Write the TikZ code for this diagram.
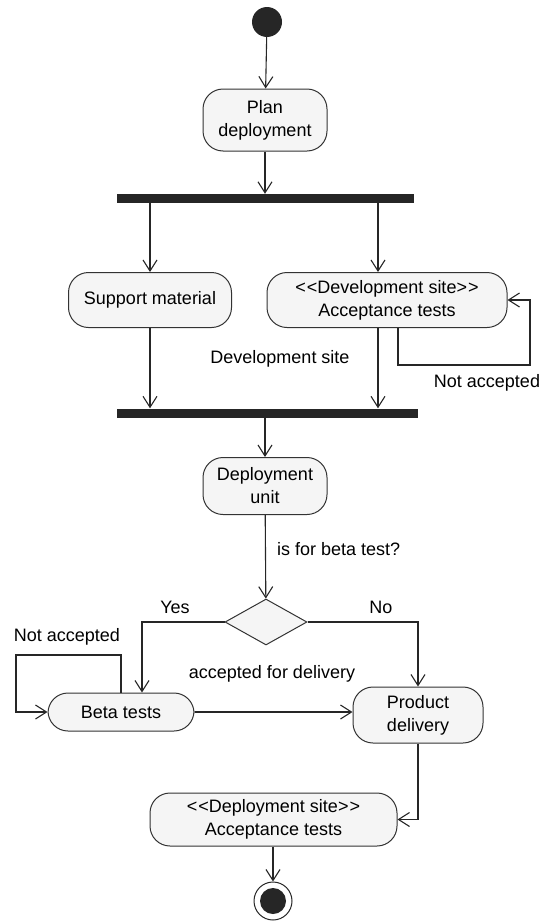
\documentclass[tikz,border=0pt]{standalone}
\usepackage{fontspec}
\setmainfont{Liberation Sans}
\usetikzlibrary{shapes.geometric,arrows.meta,positioning}

\tikzset{
  activity/.style={draw=black!80, fill=black!4, rounded corners=20pt, line width=1pt,
    align=center, inner sep=2pt, font=\fontsize{18}{23}\selectfont},
  bar/.style={fill=black!85, inner sep=0pt, minimum height=9pt},
  flow/.style={draw=black!85, line width=1.1pt, -{Straight Barb[length=11pt,width=14pt]}},
  txt/.style={font=\fontsize{18}{23}\selectfont, inner sep=0pt},
}
\newcommand{\stereo}[1]{{<}\kern1pt{<}#1{>}\kern1pt{>}}

\begin{document}
\begin{tikzpicture}[x=1pt,y=-1pt]
        \useasboundingbox (0,0) rectangle (542,921);
        % start and plan
        \node[circle, fill=black!85, minimum size=30pt, inner sep=0pt] (start) at (267,22) {};
        \node[activity, minimum width=124pt, minimum height=62pt] (plan) at (265,120) {Plan\\deployment};
        \node[bar, minimum width=297pt] (fork) at (265.5,198.5) {};
        \draw[flow] (start) -- (plan);
        \draw[flow] (plan) -- (plan |- fork.north);
        % parallel part
        \node[activity, minimum width=163pt, minimum height=55pt] (support) at (150,300) {Support material};
        \node[activity, minimum width=240pt, minimum height=55pt] (devtest) at (387,300)
            {\stereo{Development site}\\Acceptance tests};
        \node[bar, minimum width=301pt] (join) at (267.5,413) {};
        \draw[flow] (support.north |- fork.south) -- (support.north);
        \draw[flow] ([xshift=-9pt]devtest.north |- fork.south) -- ([xshift=-9pt]devtest.north);
        \draw[flow] (support.south) -- (support.south |- join.north);
        \draw[flow] ([xshift=-9pt]devtest.south) -- ([xshift=-9pt]devtest.south |- join.north);
        \coordinate (loopA) at (530,365);
        \draw[flow] ([xshift=11pt]devtest.south) |- (loopA) |- (devtest.east);
        \node[txt] (devsite) at (280,359) {Development site};
        \node[txt] (notacc1) at (487,383) {Not accepted};
        % unit and decision
        \node[activity, minimum width=124pt, minimum height=57pt] (unit) at (265,486) {Deployment\\unit};
        \node[diamond, draw=black!80, fill=black!4, line width=1pt, inner sep=0pt,
            minimum width=82pt, minimum height=46pt] (choice) at (266,622) {};
        \draw[flow] (unit.north |- join.south) -- (unit.north);
        \draw[flow] (unit) -- (choice);
        \node[txt, anchor=west] (question) at (277,549) {is for beta test?};
        % beta and delivery
        \node[activity, minimum width=146pt, minimum height=38pt] (beta) at (121,712) {Beta tests};
        \node[activity, minimum width=130pt, minimum height=56pt] (delivery) at (418,715) {Product\\delivery};
        \draw[flow] (choice.west) -| ([xshift=21pt]beta.north);
        \draw[flow] (choice.east) -| (delivery.north);
        \node[txt] (yes) at (175,607) {Yes};
        \node[txt] (no) at (381,607) {No};
        \coordinate (loopB) at (16,655);
        \draw[flow] (beta.north) |- (loopB) |- (beta.west);
        \node[txt] (notacc2) at (67,637) {Not accepted};
        \draw[flow] (beta.east) -- (beta.east -| delivery.west);
        \node[txt] (accepted) at (272,674) {accepted for delivery};
        % final part
        \node[activity, minimum width=247pt, minimum height=53pt] (deptest) at (273.5,819.5)
            {\stereo{Deployment site}\\Acceptance tests};
        \draw[flow] (delivery.south) |- (deptest.east);
        \node[circle, draw=black!85, line width=1pt, fill=white, minimum size=38pt, inner sep=0pt] (stop) at (273,901) {};
        \node[circle, fill=black!85, minimum size=26pt, inner sep=0pt] (stopdot) at (stop) {};
        \draw[flow] (deptest.south -| stop.north) -- (stop.north);
    \end{tikzpicture}
\end{document}
